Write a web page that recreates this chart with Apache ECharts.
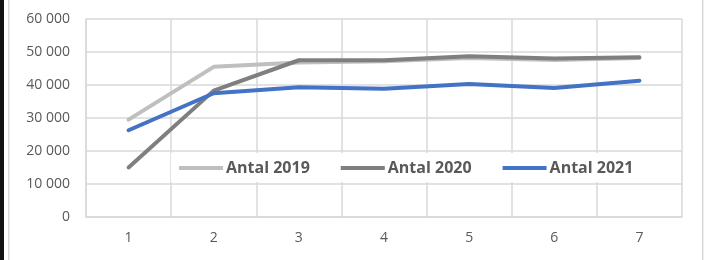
<!DOCTYPE html>
<html lang="sv" style="height: 100%">
<head>
  <meta charset="utf-8">
</head>
<body style="height: 100%; margin: 0; background: #fff">
  <div id="container" style="width: 704px; height: 260px"></div>

  <script type="text/javascript" src="https://cdn.jsdelivr.net/npm/echarts@6/dist/echarts.min.js"></script>

  <script type="text/javascript">
    // data
    var categories = ['1', '2', '3', '4', '5', '6', '7'];
    var antal2019 = [29500, 45500, 46800, 47200, 48200, 47600, 48200];
    var antal2020 = [15000, 38300, 47500, 47500, 48700, 48000, 48400];
    var antal2021 = [26300, 37500, 39300, 38900, 40300, 39100, 41300];
    var seriesNames = ['Antal 2019', 'Antal 2020', 'Antal 2021'];
    var seriesColors = ['#bfbfbf', '#7f7f7f', '#4472c4'];

    var dom = document.getElementById('container');
    var myChart = echarts.init(dom, null, { renderer: 'canvas' });

    var gridColor = '#d9d9d9';
    var textColor = '#595959';
    var fontFamily = '"Open Sans", "Noto Sans", sans-serif';

    function fmt(v) {
      // 60000 -> "60 000"
      return String(v).replace(/\B(?=(\d{3})+(?!\d))/g, ' ');
    }

    function makeSeries(name, values, color) {
      return {
        name: name,
        type: 'line',
        data: values,
        showSymbol: false,
        symbol: 'none',
        lineStyle: { color: color, width: 4, cap: 'round', join: 'round' },
        itemStyle: { color: color },
        emphasis: { disabled: true }
      };
    }

    var option = {
      animation: false,
      grid: { left: 86, right: 22, top: 19, bottom: 43 },
      legend: {
        left: 171,
        top: 153,
        backgroundColor: '#fff',
        padding: [7, 23, 6, 8],
        icon: 'rect',
        itemWidth: 44,
        itemHeight: 4,
        itemGap: 31,
        z: 10,
        textStyle: {
          color: textColor,
          fontSize: 16,
          fontWeight: 'bold',
          fontFamily: fontFamily,
          padding: [0, 0, 0, -2]
        },
        data: seriesNames
      },
      xAxis: {
        type: 'category',
        data: categories,
        boundaryGap: true,
        axisLine: { show: true, lineStyle: { color: gridColor, width: 1.5 } },
        axisTick: { show: false },
        splitLine: { show: true, lineStyle: { color: gridColor, width: 1.5 } },
        axisLabel: {
          color: textColor,
          fontSize: 14,
          fontFamily: fontFamily,
          margin: 14
        }
      },
      yAxis: {
        type: 'value',
        min: 0,
        max: 60000,
        interval: 10000,
        axisLine: { show: true, lineStyle: { color: gridColor, width: 1.5 } },
        axisTick: { show: false },
        splitLine: { show: true, lineStyle: { color: gridColor, width: 1.5 } },
        axisLabel: {
          color: textColor,
          fontSize: 14,
          fontFamily: fontFamily,
          margin: 16,
          formatter: fmt
        }
      },
      graphic: [
        { type: 'rect', shape: { x: 0, y: 0, width: 4, height: 260 }, style: { fill: '#111' } },
        { type: 'rect', shape: { x: 8, y: 0, width: 1.5, height: 260 }, style: { fill: gridColor } },
        { type: 'rect', shape: { x: 702, y: 0, width: 1.5, height: 260 }, style: { fill: gridColor } }
      ],
      series: [
        makeSeries(seriesNames[0], antal2019, seriesColors[0]),
        makeSeries(seriesNames[1], antal2020, seriesColors[1]),
        makeSeries(seriesNames[2], antal2021, seriesColors[2])
      ]
    };

    myChart.setOption(option);
    window.addEventListener('resize', myChart.resize);
  </script>
</body>
</html>
